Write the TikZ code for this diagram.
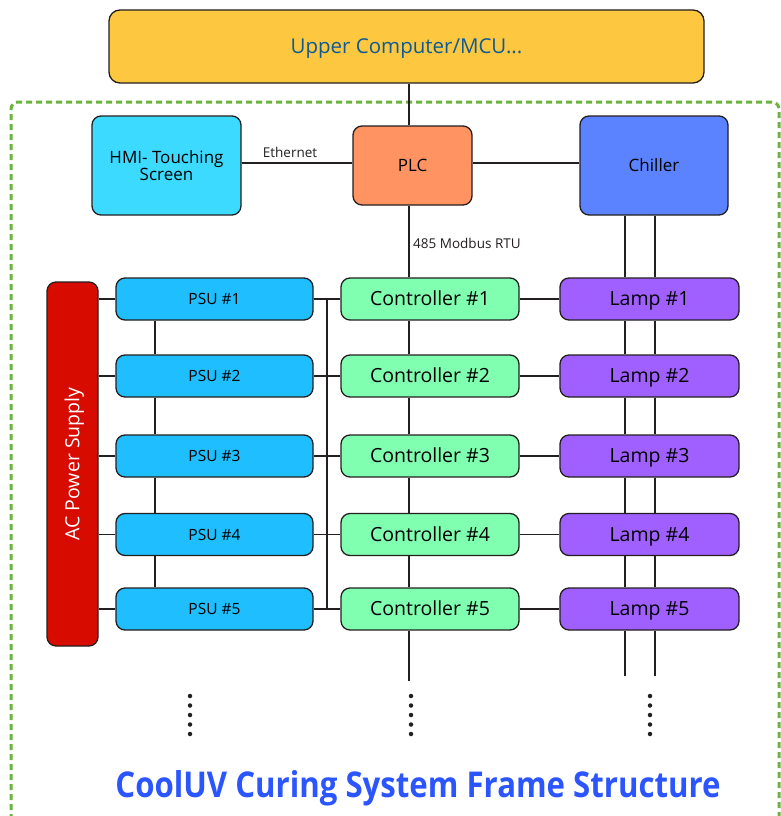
\documentclass[tikz,border=0pt]{standalone}
\usepackage{fontspec}
\setmainfont{Open Sans}
\usepackage{graphicx}
\definecolor{bord}{HTML}{231F20}
\definecolor{upperc}{HTML}{FDC840}
\definecolor{uppert}{HTML}{0E5A96}
\definecolor{hmic}{HTML}{3DDAFF}
\definecolor{plcc}{HTML}{FF9462}
\definecolor{chillc}{HTML}{5B82FF}
\definecolor{acc}{HTML}{D80B00}
\definecolor{psuc}{HTML}{1FBEFF}
\definecolor{ctlc}{HTML}{80FFB0}
\definecolor{lampc}{HTML}{A05FFF}
\definecolor{framec}{HTML}{6DB33F}
\definecolor{titlec}{HTML}{2B56FF}
\newcommand{\fs}[1]{\fontsize{#1}{#1}\selectfont}
\begin{document}
\begin{tikzpicture}[x=1pt,y=1pt,
  box/.style={draw=bord, line width=1.3pt, rounded corners=9pt, inner sep=0pt, align=center, text=black},
  wire/.style={draw=bord, line width=1.4pt},
  psubox/.style={box, fill=psuc, minimum width=197pt, minimum height=42pt, font=\fs{15.5}, text height=11.1pt, text depth=0pt},
  ctlbox/.style={box, fill=ctlc, minimum width=178pt, minimum height=42pt, font=\fs{19.5}, text height=13.9pt, text depth=0pt},
  lampbox/.style={box, fill=lampc, minimum width=179pt, minimum height=42pt, font=\fs{19.5}, text height=13.9pt, text depth=0pt},
  lbl/.style={font=\fs{13.5}, text=bord, inner sep=0pt},
  dotm/.style={fill=bord, draw=none, circle, minimum size=4.5pt, inner sep=0pt}
]
\useasboundingbox (0,0) rectangle (781,-816);
\fill[white] (0,0) rectangle (781,-816);
% frame
\draw[framec, line width=3pt, dash pattern=on 6pt off 4pt, rounded corners=7pt]
  (11,-830) -- (11,-102) -- (779,-102) -- (779,-830);

% top nodes
\node[box, fill=upperc, minimum width=595pt, minimum height=73pt, rounded corners=11pt, text=uppert, font=\fs{20.5}, text height=14.6pt, text depth=0pt] (upper) at (406.5,-46.5) {Upper Computer/MCU...};
\node[box, fill=hmic, minimum width=149pt, minimum height=99pt, font=\fs{17}] (hmi) at (166.5,-165.5) {HMI- Touching\\Screen};
\node[box, fill=plcc, minimum width=119pt, minimum height=79pt, font=\fs{17}, text height=12.1pt, text depth=0pt] (plc) at (412.5,-165.5) {PLC};
\node[box, fill=chillc, minimum width=148pt, minimum height=99pt, font=\fs{17}, text height=12.1pt, text depth=0pt] (chill) at (654,-165.5) {Chiller};

\node[box, fill=acc, minimum width=51pt, minimum height=364pt, rounded corners=9pt] (ac) at (72.5,-464) {};
\node[text=white, rotate=90, font=\fs{19.5}, inner sep=0pt, text height=13.9pt, text depth=0pt] (actext) at (ac.center) {AC Power Supply};

\foreach \i/\y in {1/299,2/376,3/456,4/534.5,5/609}{
  \node[psubox] (psu\i) at (214.5,-\y) {PSU \#\i};
  \node[ctlbox] (ctl\i) at (430,-\y) {Controller \#\i};
  \node[lampbox] (lamp\i) at (649.5,-\y) {Lamp \#\i};
}

\coordinate (busx) at (409,0);
\coordinate (psux) at (155,0);
\coordinate (pbx) at (327,0);
\coordinate (cha) at (625,0);
\coordinate (chb) at (655,0);
\coordinate (ctlend) at (409,-681);
\coordinate (chaend) at (625,-676);
\coordinate (chbend) at (655,-676);

% connectors
\draw[wire] (upper.south -| busx) -- (plc.north -| busx);
\draw[wire] (hmi.east |- 0,-163) -- (plc.west |- 0,-163);
\node[lbl, anchor=base] (eth) at (290,-157) {Ethernet};
\draw[wire] (plc.east |- 0,-163) -- (chill.west |- 0,-163);
\draw[wire] (plc.south -| busx) -- (ctl1.north -| busx);
\node[lbl, anchor=base west] (modbus) at (413,-248) {485 Modbus RTU};

\draw[wire] (chill.south -| cha) -- (lamp1.north -| cha);
\draw[wire] (chill.south -| chb) -- (lamp1.north -| chb);
\foreach \i/\j in {1/2,2/3,3/4,4/5}{
  \draw[wire] (lamp\i.south -| cha) -- (lamp\j.north -| cha);
  \draw[wire] (lamp\i.south -| chb) -- (lamp\j.north -| chb);
  \draw[wire] (ctl\i.south -| busx) -- (ctl\j.north -| busx);
  \draw[wire] (psu\i.south -| psux) -- (psu\j.north -| psux);
}
\draw[wire] (lamp5.south -| cha) -- (chaend);
\draw[wire] (lamp5.south -| chb) -- (chbend);
\draw[wire] (ctl5.south -| busx) -- (ctlend);

\foreach \i in {1,...,5}{
  \draw[wire] (ac.east |- psu\i.west) -- (psu\i.west);
  \draw[wire] (psu\i.east) -- (ctl\i.west);
  \draw[wire] (ctl\i.east) -- (lamp\i.west);
}
\draw[wire] (psu1.east -| pbx) -- (psu5.east -| pbx);

% dots
\foreach \x/\n in {190/a,411/b,650/c}{
  \foreach \k in {0,...,4}{
    \node[dotm] (d\n\k) at (\x,-696-9.5*\k) {};
  }
}

% title
\node[anchor=base, inner sep=0pt, text=titlec] (title) at (418,-797)
  {\resizebox{605pt}{27pt}{\bfseries CoolUV Curing System Frame Structure}};
\end{tikzpicture}
\end{document}
